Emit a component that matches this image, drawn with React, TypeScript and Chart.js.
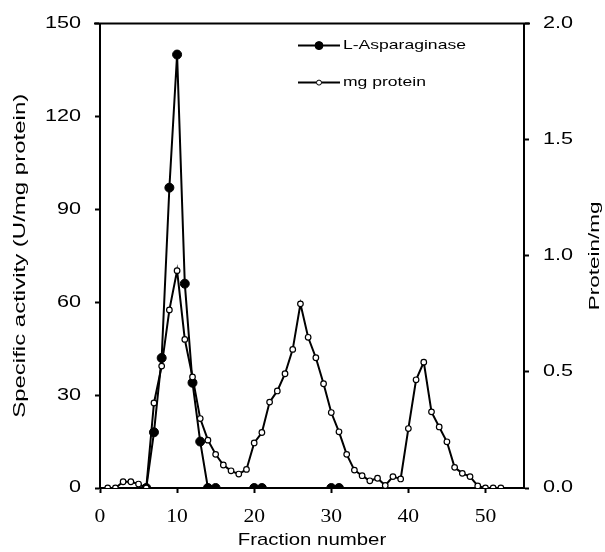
import React, { useEffect, useRef } from "react";
import { Chart, registerables } from "chart.js";

Chart.register(...registerables);

// ---- Data ----
const asparaginaseFractions = [6, 7, 8, 9, 10, 11, 12, 13, 14, 15, 20, 21, 30, 31];
const asparaginaseActivity = [0, 18, 42, 97, 140, 66, 34, 15, 0, 0, 0, 0, 0, 0];

const proteinFractions = [
  1, 2, 3, 4, 5, 6, 7, 8, 9, 10, 11, 12, 13, 14, 15, 16, 17, 18, 19, 20, 21, 22, 23, 24, 25, 26,
  27, 28, 29, 30, 31, 32, 33, 34, 35, 36, 37, 38, 39, 40, 41, 42, 43, 44, 45, 46, 47, 48, 49, 50, 51, 52,
];
const proteinMg = [
  0, 0, 0.027, 0.027, 0.017, 0, 0.366, 0.525, 0.767, 0.936, 0.64, 0.478, 0.299, 0.206, 0.145, 0.099,
  0.074, 0.06, 0.08, 0.194, 0.239, 0.37, 0.418, 0.492, 0.597, 0.793, 0.649, 0.561, 0.449, 0.325,
  0.242, 0.145, 0.077, 0.053, 0.031, 0.042, 0.011, 0.049, 0.039, 0.256, 0.466, 0.542, 0.328, 0.263,
  0.199, 0.089, 0.063, 0.049, 0.009, 0, 0, 0,
];

const seriesLabels = ["L-Asparaginase", "mg protein"];
const xTitle = "Fraction number";
const yLeftTitle = "Specific activity (U/mg protein)";
const yRightTitle = "Protein/mg";

const SANS = "'Liberation Sans', Arial, sans-serif";
const SERIF = "'Liberation Serif', 'Times New Roman', serif";

// The reference's lettering is drawn wide; stretch glyphs along the writing direction.
function stretchFor(text: string, font: string): number {
  if (text === yLeftTitle || text === yRightTitle) return 1.5;
  if (text === xTitle) return 1.2;
  if (seriesLabels.includes(text)) return 1.35;
  if (font.includes("Serif")) return 1.2;
  return 1.35;
}

function patchContext(ctx: any) {
  if (ctx.__wideText) return;
  ctx.__wideText = true;
  const origFill = ctx.fillText.bind(ctx);
  const origMeasure = ctx.measureText.bind(ctx);
  ctx.fillText = (text: string, x: number, y: number) => {
    const sx = stretchFor(String(text), ctx.font);
    ctx.save();
    ctx.translate(x, y);
    ctx.scale(sx, 1);
    origFill(text, 0, 0);
    ctx.restore();
  };
  ctx.measureText = (text: string) => {
    const m = origMeasure(text);
    const sx = stretchFor(String(text), ctx.font);
    return {
      width: m.width * sx,
      actualBoundingBoxLeft: m.actualBoundingBoxLeft * sx,
      actualBoundingBoxRight: m.actualBoundingBoxRight * sx,
      actualBoundingBoxAscent: m.actualBoundingBoxAscent,
      actualBoundingBoxDescent: m.actualBoundingBoxDescent,
      fontBoundingBoxAscent: m.fontBoundingBoxAscent,
      fontBoundingBoxDescent: m.fontBoundingBoxDescent,
    };
  };
}

const framePlugin = {
  id: "frameAndExtras",
  afterDraw(chart: any) {
    const { ctx, chartArea } = chart;
    ctx.save();
    // top frame line
    ctx.strokeStyle = "#000";
    ctx.lineWidth = 2;
    ctx.beginPath();
    ctx.moveTo(chartArea.left - 6, chartArea.top);
    ctx.lineTo(chartArea.right + 6, chartArea.top);
    ctx.stroke();

    // right axis title (reads bottom to top)
    ctx.fillStyle = "#000";
    ctx.font = `15px ${SANS}`;
    ctx.textAlign = "center";
    ctx.textBaseline = "middle";
    ctx.translate(595, (chartArea.top + chartArea.bottom) / 2);
    ctx.rotate(-Math.PI / 2);
    ctx.fillText(yRightTitle, 0, 0);
    ctx.restore();

    // legend
    ctx.save();
    const ds = chart.data.datasets;
    const x0 = chartArea.left + 198;
    const x1 = chartArea.left + 240;
    const xm = (x0 + x1) / 2;
    const rows = [chartArea.top + 22, chartArea.top + 59];
    ds.forEach((d: any, i: number) => {
      const y = rows[i];
      ctx.strokeStyle = "#000";
      ctx.lineWidth = 2;
      ctx.beginPath();
      ctx.moveTo(x0, y);
      ctx.lineTo(x1, y);
      ctx.stroke();
      ctx.beginPath();
      ctx.arc(xm, y, i === 0 ? 4 : 2.5, 0, Math.PI * 2);
      ctx.fillStyle = d.pointBackgroundColor;
      ctx.fill();
      ctx.lineWidth = 1;
      ctx.strokeStyle = "#000";
      ctx.stroke();
      ctx.fillStyle = "#000";
      ctx.font = `13px ${SANS}`;
      ctx.textAlign = "left";
      ctx.textBaseline = "middle";
      ctx.fillText(d.label, x1 + 3, y);
    });
    ctx.restore();
  },
};

export default function App() {
  const canvasRef = useRef<HTMLCanvasElement | null>(null);

  useEffect(() => {
    const canvas = canvasRef.current;
    if (!canvas) return;
    patchContext(canvas.getContext("2d"));
    const chart = new Chart(canvas, {
      type: "line",
      data: {
        datasets: [
          {
            label: seriesLabels[0],
            data: asparaginaseFractions.map((f, i) => ({ x: f, y: asparaginaseActivity[i] })),
            yAxisID: "y",
            borderColor: "#000",
            borderWidth: 2,
            pointRadius: 4.5,
            pointBackgroundColor: "#000",
            pointBorderColor: "#000",
            pointBorderWidth: 1,
            tension: 0,
            order: 1,
          },
          {
            label: seriesLabels[1],
            data: proteinFractions.map((f, i) => ({ x: f, y: proteinMg[i] })),
            yAxisID: "y1",
            borderColor: "#000",
            borderWidth: 2,
            pointRadius: 2.8,
            pointBackgroundColor: "#fff",
            pointBorderColor: "#000",
            pointBorderWidth: 1.2,
            tension: 0,
            order: 0,
          },
        ],
      },
      options: {
        animation: false,
        responsive: false,
        events: [],
        layout: { padding: { top: 22, left: 0, right: 0, bottom: 0 } },
        plugins: { legend: { display: false }, tooltip: { enabled: false } },
        scales: {
          x: {
            type: "linear",
            position: "bottom",
            min: 0,
            max: 55,
            ticks: {
              stepSize: 10,
              includeBounds: false,
              color: "#000",
              padding: 13,
              maxRotation: 0,
              font: { family: SERIF, size: 18 },
            },
            grid: { display: true, drawOnChartArea: false, drawTicks: true, tickLength: 5, tickColor: "#000", tickWidth: 2 },
            border: { display: true, color: "#000", width: 2 },
            title: {
              display: true,
              text: xTitle,
              color: "#000",
              font: { family: SANS, size: 17 },
              padding: { top: 0, bottom: 1 },
            },
            afterFit: (s: any) => {
              s.height = 64;
            },
          },
          y: {
            type: "linear",
            position: "left",
            min: 0,
            max: 150,
            ticks: { stepSize: 30, color: "#000", padding: 14, font: { family: SANS, size: 16 } },
            grid: { display: true, drawOnChartArea: false, drawTicks: true, tickLength: 5, tickColor: "#000", tickWidth: 2 },
            border: { display: true, color: "#000", width: 2 },
            title: {
              display: true,
              text: yLeftTitle,
              color: "#000",
              font: { family: SANS, size: 16 },
              padding: { top: 11, bottom: 0 },
            },
            afterFit: (s: any) => {
              s.width = 100;
            },
          },
          y1: {
            type: "linear",
            position: "right",
            min: 0,
            max: 2,
            ticks: {
              stepSize: 0.5,
              color: "#000",
              padding: 14,
              font: { family: SANS, size: 16 },
              callback: (v: any) => Number(v).toFixed(1),
            },
            grid: { display: true, drawOnChartArea: false, drawTicks: true, tickLength: 5, tickColor: "#000", tickWidth: 2 },
            border: { display: true, color: "#000", width: 2 },
            afterFit: (s: any) => {
              s.width = 81;
            },
          },
        },
      },
      plugins: [framePlugin],
    } as any);
    return () => chart.destroy();
  }, []);

  return (
    <div style={{ position: "fixed", left: 0, top: 0, width: 605, height: 552, background: "#fff" }}>
      <canvas ref={canvasRef} width={605} height={552} />
    </div>
  );
}
